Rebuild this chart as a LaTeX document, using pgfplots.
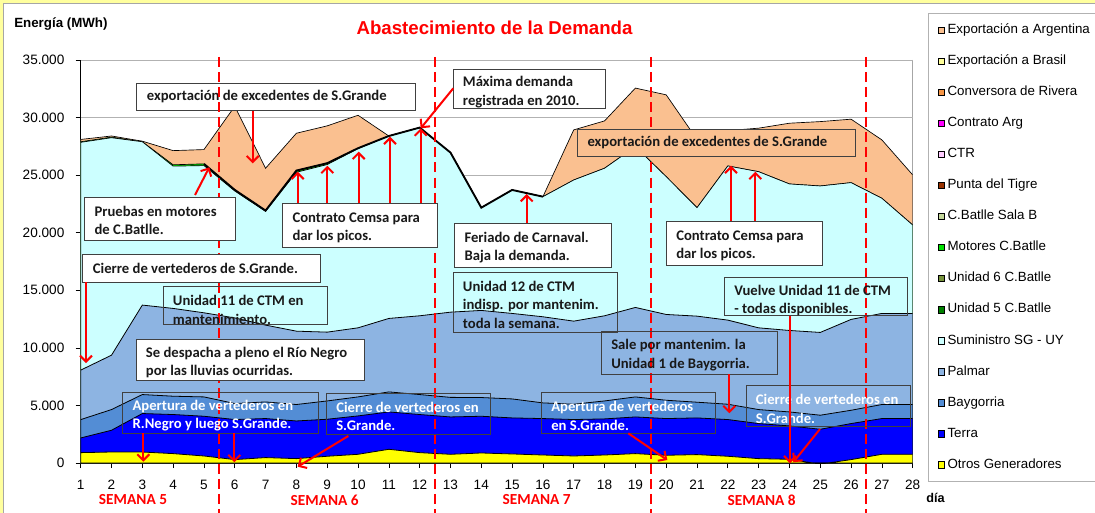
\documentclass[border=0pt]{standalone}
\usepackage{pgfplots}
\pgfplotsset{compat=1.18}
\usepackage{pgfplotstable}
\usepackage{fontspec}
\setmainfont{Liberation Sans}
\newfontfamily\calib{Carlito}
\usetikzlibrary{arrows.meta}

\definecolor{cPeach}{HTML}{FAC090}
\definecolor{cBrasil}{HTML}{FFFF99}
\definecolor{cConv}{HTML}{F79646}
\definecolor{cCArg}{HTML}{FF00FF}
\definecolor{cCTR}{HTML}{FFCCFF}
\definecolor{cPdT}{HTML}{993300}
\definecolor{cSalaB}{HTML}{C4D79B}
\definecolor{cMot}{HTML}{00E000}
\definecolor{cU6}{HTML}{77933C}
\definecolor{cU5}{HTML}{008000}
\definecolor{cSG}{HTML}{CCFFFF}
\definecolor{cPal}{HTML}{8DB4E2}
\definecolor{cBay}{HTML}{538DD5}
\definecolor{cTerra}{HTML}{0000FF}
\definecolor{cOtros}{HTML}{FFFF00}
\definecolor{cYbg}{HTML}{FFFF9E}
\definecolor{cBox}{HTML}{404040}

% cumulative boundaries (MWh)
\pgfplotstableread{
d otros terra bay palmar sg dem tot
1  900  2175 3770 8065 27850 27900 28100
2  955  2845 4640 9365 28250 28300 28400
3  955  4295 5945 13715 27900 27900 27950
4  815  4210 5800 13425 25780 25900 27130
5  610  4060 5740 13045 25830 25980 27220
6  295  3775 5165 12600 23620 23720 30980
7  470  3860 5305 11975 21850 21925 25600
8  380  3650 5080 11450 25250 25400 28640
9  585  3800 5390 11365 25920 26040 29280
10 755  4090 5740 11740 27300 27340 30200
11 1190 4435 6175 12555 28400 28400 28400
12 900  4210 5945 12785 29130 29130 29130
13 755  4000 5700 13100 26960 26960 26960
14 870  4060 5685 13250 22175 22175 22175
15 785  3915 5565 12990 23715 23715 23715
16 695  3860 5220 12700 23130 23130 23130
17 610  3775 5105 12320 24580 24580 28930
18 695  3830 5390 12785 25600 25600 29710
19 815  4000 5740 13510 27480 27480 32560
20 670  3860 5450 12900 24870 24870 31975
21 730  3915 5280 12755 22175 22175 28100
22 585  3775 5105 12410 25800 25800 28870
23 380  3425 4640 11740 25300 25300 29080
24 320  3220 4435 11510 24235 24235 29510
25 -100 2930 4150 11340 24060 24060 29650
26 295  3425 4580 12470 24350 24350 29860
27 755  3860 5080 12990 22990 22990 28060
28 755  3860 5080 12990 20670 20670 25020
}\datatab

\begin{document}
\begin{tikzpicture}
\begin{scope}[x=0.75pt,y=-0.75pt]
\fill[cYbg] (0,0) rectangle (1095,513);
\fill[white, draw=gray!70, line width=0.4pt] (3.5,3.5) rectangle (1110,530);
\draw[gray!70, line width=0.6pt] (912.7,60) -- (912.7,463);
\end{scope}

\begin{axis}[
  at={(60.525pt,-347.25pt)}, anchor=south west,
  scale only axis, width=624pt, height=302.25pt,
  xmin=1, xmax=28, ymin=0, ymax=35000,
  xtick={1,...,28}, ytick={0,5000,...,35000},
  scaled y ticks=false,
  /pgf/number format/assume math mode=true,
  /pgf/number format/1000 sep={.},
  axis x line*=bottom, axis y line*=left,
  axis line style={black, line width=0.6pt, -},
  tick align=outside, major tick length=3.75pt,
  tick style={black, line width=0.5pt},
  ymajorgrids, grid style={gray!60, line width=0.5pt},
  xticklabel style={font=\fontsize{10.2}{12}\selectfont, yshift=-5.5pt},
  yticklabel style={font=\fontsize{10.2}{12}\selectfont, xshift=-5pt},
  legend image code/.code={\draw[#1] (0pt,-2.4pt) rectangle (4.8pt,2.4pt);},
  legend style={at={(1.0184,1.1166)}, anchor=north west,
    draw=gray!60, fill=white, line width=0.5pt,
    inner xsep=7pt, inner ysep=8pt, row sep=14.3pt,
    font=\fontsize{10}{12}\selectfont,
    nodes={text height=7pt, text depth=2pt, inner ysep=0pt, inner xsep=2.2pt}},
  legend cell align=left,
]
\addplot[fill=cPeach, draw=black, line width=0.5pt, forget plot] table[x=d,y=tot]{\datatab} \closedcycle;
\addplot[fill=cMot, draw=black, line width=0.5pt, forget plot] table[x=d,y=dem]{\datatab} \closedcycle;
\addplot[fill=cSG, draw=black, line width=0.5pt, forget plot] table[x=d,y=sg]{\datatab} \closedcycle;
\addplot[fill=cPal, draw=black, line width=0.6pt, forget plot] table[x=d,y=palmar]{\datatab} \closedcycle;
\addplot[fill=cBay, draw=black, line width=0.6pt, forget plot] table[x=d,y=bay]{\datatab} \closedcycle;
\addplot[fill=cTerra, draw=black, line width=0.6pt, forget plot] table[x=d,y=terra]{\datatab} \closedcycle;
\addplot[fill=cOtros, draw=black, line width=0.6pt, forget plot] table[x=d,y=otros]{\datatab} \closedcycle;
\addplot[black, line width=1.4pt, restrict x to domain=4.5:16, forget plot] table[x=d,y=dem]{\datatab};

\addlegendimage{fill=cPeach, draw=black, line width=0.4pt}
\addlegendentry{Exportación a Argentina}
\addlegendimage{fill=cBrasil, draw=black, line width=0.4pt}
\addlegendentry{Exportación a Brasil}
\addlegendimage{fill=cConv, draw=black, line width=0.4pt}
\addlegendentry{Conversora de Rivera}
\addlegendimage{fill=cCArg, draw=black, line width=0.4pt}
\addlegendentry{Contrato Arg}
\addlegendimage{fill=cCTR, draw=black, line width=0.4pt}
\addlegendentry{CTR}
\addlegendimage{fill=cPdT, draw=black, line width=0.4pt}
\addlegendentry{Punta del Tigre}
\addlegendimage{fill=cSalaB, draw=black, line width=0.4pt}
\addlegendentry{C.Batlle Sala B}
\addlegendimage{fill=cMot, draw=black, line width=0.4pt}
\addlegendentry{Motores C.Batlle}
\addlegendimage{fill=cU6, draw=black, line width=0.4pt}
\addlegendentry{Unidad 6 C.Batlle}
\addlegendimage{fill=cU5, draw=black, line width=0.4pt}
\addlegendentry{Unidad 5 C.Batlle}
\addlegendimage{fill=cSG, draw=black, line width=0.4pt}
\addlegendentry{Suministro SG - UY}
\addlegendimage{fill=cPal, draw=black, line width=0.4pt}
\addlegendentry{Palmar}
\addlegendimage{fill=cBay, draw=black, line width=0.4pt}
\addlegendentry{Baygorria}
\addlegendimage{fill=cTerra, draw=black, line width=0.4pt}
\addlegendentry{Terra}
\addlegendimage{fill=cOtros, draw=black, line width=0.4pt}
\addlegendentry{Otros Generadores}
\end{axis}

\begin{scope}[x=0.75pt,y=-0.75pt,
  bx/.style={draw=cBox, line width=0.6pt},
  tx/.style={anchor=west, align=left, inner sep=0pt, font=\calib\bfseries\fontsize{11}{13.7}\selectfont, text=black!90},
  wt/.style={tx, text=white},
  ar/.style={red, line width=1.5pt, -{Straight Barb[length=4.5pt,width=9pt]}},
  dl/.style={red, line width=1.4pt, dash pattern=on 7.5pt off 3.8pt}]
% left export box (drawn under dashed line)
\draw[bx, fill=white] (136.7,83.3) rectangle (415,110.7);
\node[tx] at (146.7,97) {exportación de excedentes de S.Grande};
% week separators
\foreach \xx in {219.3,435.0,650.7,866.4} \draw[dl] (\xx,57) -- (\xx,513);
% boxes
\draw[bx, fill=white] (453.3,69) rectangle (605,108.3);
\node[tx] at (462.7,92) {Máxima demanda\\registrada en 2010.};
\draw[bx, fill=cPeach] (577.7,129) rectangle (855.7,156);
\node[tx] at (587.3,143) {exportación de excedentes de S.Grande};
\draw[bx, fill=white] (84.3,197.3) rectangle (235,240);
\node[tx] at (94.3,220.5) {Pruebas en motores\\de C.Batlle.};
\draw[bx, fill=white] (282.3,203.3) rectangle (437.7,247.3);
\node[tx] at (292.3,227.5) {Contrato Cemsa para\\dar los picos.};
\draw[bx, fill=white] (454.3,223.3) rectangle (611.7,267.3);
\node[tx] at (464.3,247.5) {Feriado de Carnaval.\\Baja la demanda.};
\draw[bx, fill=white] (666.7,221) rectangle (822.3,265);
\node[tx] at (676,245.8) {Contrato Cemsa para\\dar los picos.};
\draw[bx, fill=white] (82.7,254) rectangle (320,282.3);
\node[tx] at (92.7,268.3) {Cierre de vertederos de S.Grande.};
\draw[bx] (163.3,286.7) rectangle (327.3,324);
\node[tx] at (172.7,309.8) {Unidad 11 de CTM en\\mantenimiento.};
\draw[bx, fill=white] (136,339.3) rectangle (364,380);
\node[tx] at (145.7,362.8) {Se despacha a pleno el Río Negro\\por las lluvias ocurridas.};
\draw[bx] (122.3,392.3) rectangle (318.3,433.3);
\node[wt] at (132.3,415.3) {Apertura de vertederos en\\R.Negro y luego S.Grande.};
\draw[bx] (326.7,393.3) rectangle (490.7,434);
\node[wt] at (336,416.2) {Cierre de vertederos en\\S.Grande.};
\draw[bx] (453.3,272.7) rectangle (617.3,332);
\node[tx] at (462.7,304.7) {Unidad 12 de CTM\\indisp. por mantenim.\\toda la semana.};
\draw[bx] (601.7,331.7) rectangle (777.3,374.3);
\node[tx] at (611,355) {Sale por mantenim. la\\Unidad 1 de Baygorria.};
\draw[bx] (541.7,392.3) rectangle (715.7,433.3);
\node[wt] at (551,415.8) {Apertura de vertederos\\en S.Grande.};
\draw[bx] (724.7,277.7) rectangle (907.3,315.7);
\node[tx] at (734,300.8) {Vuelve Unidad 11 de CTM\\- todas disponibles.};
\draw[bx] (746.3,385.7) rectangle (910.7,426);
\node[wt] at (755.7,408.8) {Cierre de vertederos en\\S.Grande.};
% arrows
\draw[ar] (86,282.3) -- (86,363);
\draw[ar] (195,195) -- (209.3,167.3);
\draw[ar] (252.7,110.7) -- (252.7,163.3);
\draw[ar] (297.7,203.3) -- (297.7,171.7);
\draw[ar] (327.3,203.3) -- (327.3,165.7);
\draw[ar] (358.7,203.3) -- (358.7,151.7);
\draw[ar] (390,203.3) -- (390,136.7);
\draw[ar] (420.7,203.3) -- (420.7,128.3);
\draw[ar] (453.3,88.3) -- (420.7,128.3);
\draw[ar] (526.7,223.3) -- (526.7,194);
\draw[ar] (731,221) -- (731,165.7);
\draw[ar] (755.3,221) -- (755.3,171.7);
\draw[ar] (143.3,433.3) -- (143.3,461.7);
\draw[ar] (234.3,433.3) -- (234.3,462.3);
\draw[ar] (348.3,436) -- (297.7,466.7);
\draw[ar] (729.3,374.3) -- (729.3,413.3);
\draw[ar] (628.3,433.3) -- (667.3,460);
\draw[ar] (790,315.7) -- (790,463.3);
\draw[ar] (820,429) -- (793.3,462.3);
% titles and labels
\node[font=\bfseries\fontsize{14}{16}\selectfont, text=red] at (494.5,28) {Abastecimiento de la Demanda};
\node[anchor=west, inner sep=0pt, font=\bfseries\fontsize{10}{12}\selectfont] at (14,24) {Energía (MWh)};
\node[anchor=west, inner sep=0pt, font=\bfseries\fontsize{9.5}{11}\selectfont] at (926,498) {día};
\foreach \xx/\tt in {133/5,324.7/6,536.7/7,761.7/8}
  \node[font=\calib\bfseries\fontsize{11.5}{13}\selectfont, text=red] at (\xx,500) {SEMANA \tt};
\end{scope}
\pgfresetboundingbox
\path[use as bounding box] (0,0) rectangle (821.25pt,-384.75pt);
\end{tikzpicture}
\end{document}
